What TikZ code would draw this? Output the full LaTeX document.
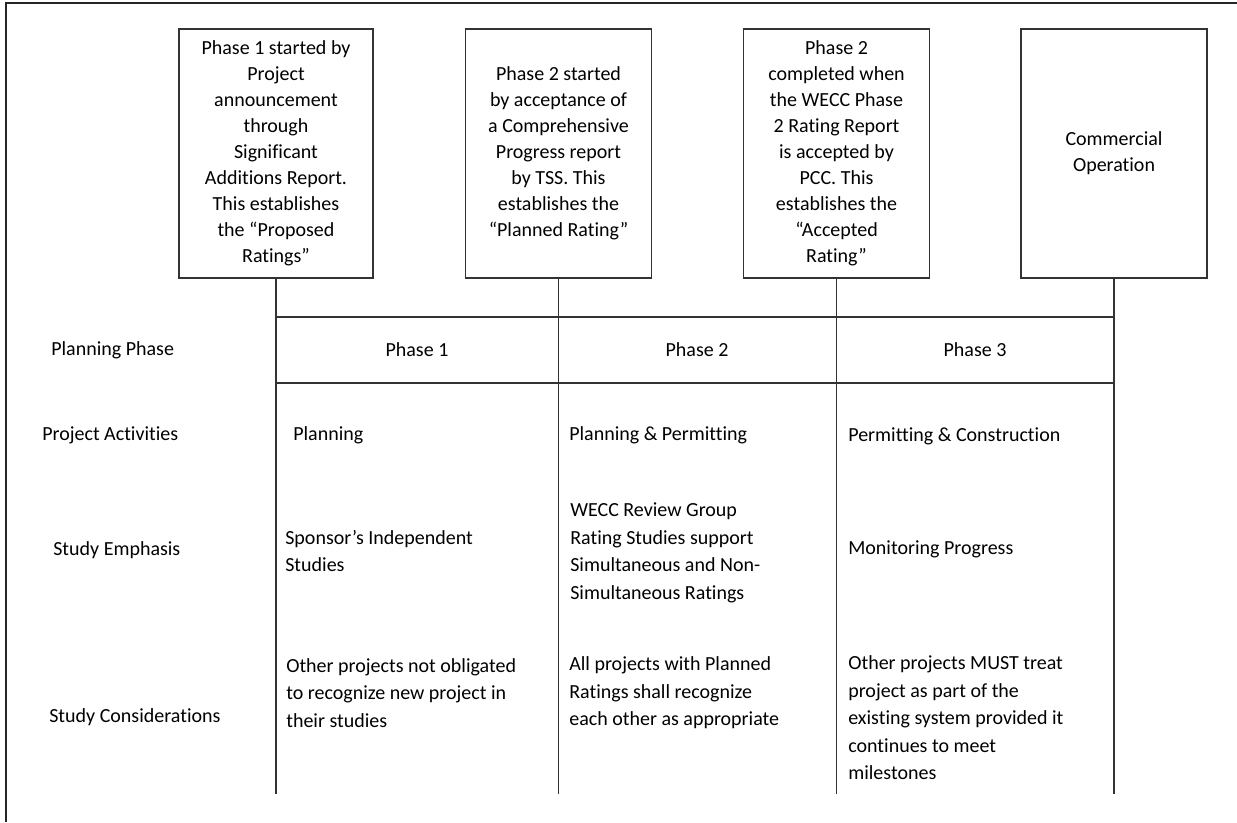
\documentclass[tikz,border=0pt]{standalone}
\usepackage{fontspec}
\setmainfont{Carlito}[Ligatures=CommonOff]
\usetikzlibrary{positioning}
\colorlet{myline}{black!80}
\colorlet{myframe}{black!85}

\begin{document}
\begin{tikzpicture}[x=1pt,y=-1pt,-,semithick]
  \tikzstyle{milestone}=[rectangle,draw=myline,line width=1.3pt,minimum width=186pt,minimum height=249pt,align=center,inner sep=0pt,font=\fontsize{20}{26}\selectfont]
  \tikzstyle{rowlabel}=[anchor=west,inner sep=0pt,font=\fontsize{20}{27.5}\selectfont]
  \tikzstyle{cell}=[anchor=west,align=left,inner sep=0pt,font=\fontsize{20}{27.5}\selectfont]
  \tikzstyle{phase}=[inner sep=0pt,font=\fontsize{20}{26}\selectfont]
  \tikzstyle{grid}=[draw=myline,line width=1.3pt]

  \useasboundingbox (0,0) rectangle (1237,822);

  % frame, cut off at the right and bottom
  \coordinate (fbl) at (6,822);
  \coordinate (ftl) at (6,3);
  \coordinate (ftr) at (1237,3);
  \draw[myframe,line width=2.6pt] (fbl) -- (ftl) -- (ftr);

  % milestone boxes
  \node[milestone,minimum width=194pt] (m1) at (276,153.5) {Phase 1 started by\\Project\\announcement\\through\\Significant\\Additions Report.\\This establishes\\the “Proposed\\Ratings”};
  \node[milestone] (m2) at (558.5,153.5) {Phase 2 started\\by acceptance of\\a Comprehensive\\Progress report\\by TSS. This\\establishes the\\“Planned Rating”};
  \node[milestone] (m3) at (836.5,153.5) {Phase 2\\completed when\\the WECC Phase\\2 Rating Report\\is accepted by\\PCC. This\\establishes the\\“Accepted\\Rating”};
  \node[milestone] (m4) at (1114,153.5) {Commercial\\Operation};

  % grid
  \coordinate (b1) at (276,794);
  \coordinate (b2) at (558.5,794);
  \coordinate (b3) at (836.5,794);
  \coordinate (b4) at (1114,794);
  \coordinate (h1l) at (276,317);
  \coordinate (h1r) at (1115,317);
  \coordinate (h2l) at (276,383);
  \coordinate (h2r) at (1115,383);

  \path[grid] (m1) edge (b1);
  \path[grid] (m2) edge (b2);
  \path[grid] (m3) edge (b3);
  \path[grid] (m4) edge (b4);
  \path[grid] (h1l) edge (h1r);
  \path[grid] (h2l) edge (h2r);

  % planning phases
  \node[phase] (p1) at (417,350) {Phase 1};
  \node[phase] (p2) at (697,350) {Phase 2};
  \node[phase] (p3) at (975,350) {Phase 3};

  % row labels
  \node[rowlabel] (lplan) at (51,350) {Planning Phase};
  \node[rowlabel] (lact) at (42,435) {Project Activities};
  \node[rowlabel] (lemph) at (53,550) {Study Emphasis};
  \node[rowlabel] (lcons) at (49,717) {Study Considerations};

  % cells
  \node[cell] (a1) at (293,435) {Planning};
  \node[cell] (a2) at (569,435) {Planning \& Permitting};
  \node[cell] (a3) at (848,436) {Permitting \& Construction};
  \node[cell] (e1) at (285,551) {Sponsor’s Independent\\Studies};
  \node[cell] (e2) at (570,553) {WECC Review Group\\Rating Studies support\\Simultaneous and Non-\\Simultaneous Ratings};
  \node[cell] (e3) at (848,549) {Monitoring Progress};
  \node[cell] (c1) at (286,693) {Other projects not obligated\\to recognize new project in\\their studies};
  \node[cell] (c2) at (569,693) {All projects with Planned\\Ratings shall recognize\\each other as appropriate};
  \node[cell] (c3) at (848,718) {Other projects MUST treat\\project as part of the\\existing system provided it\\continues to meet\\milestones};
\end{tikzpicture}
\end{document}
